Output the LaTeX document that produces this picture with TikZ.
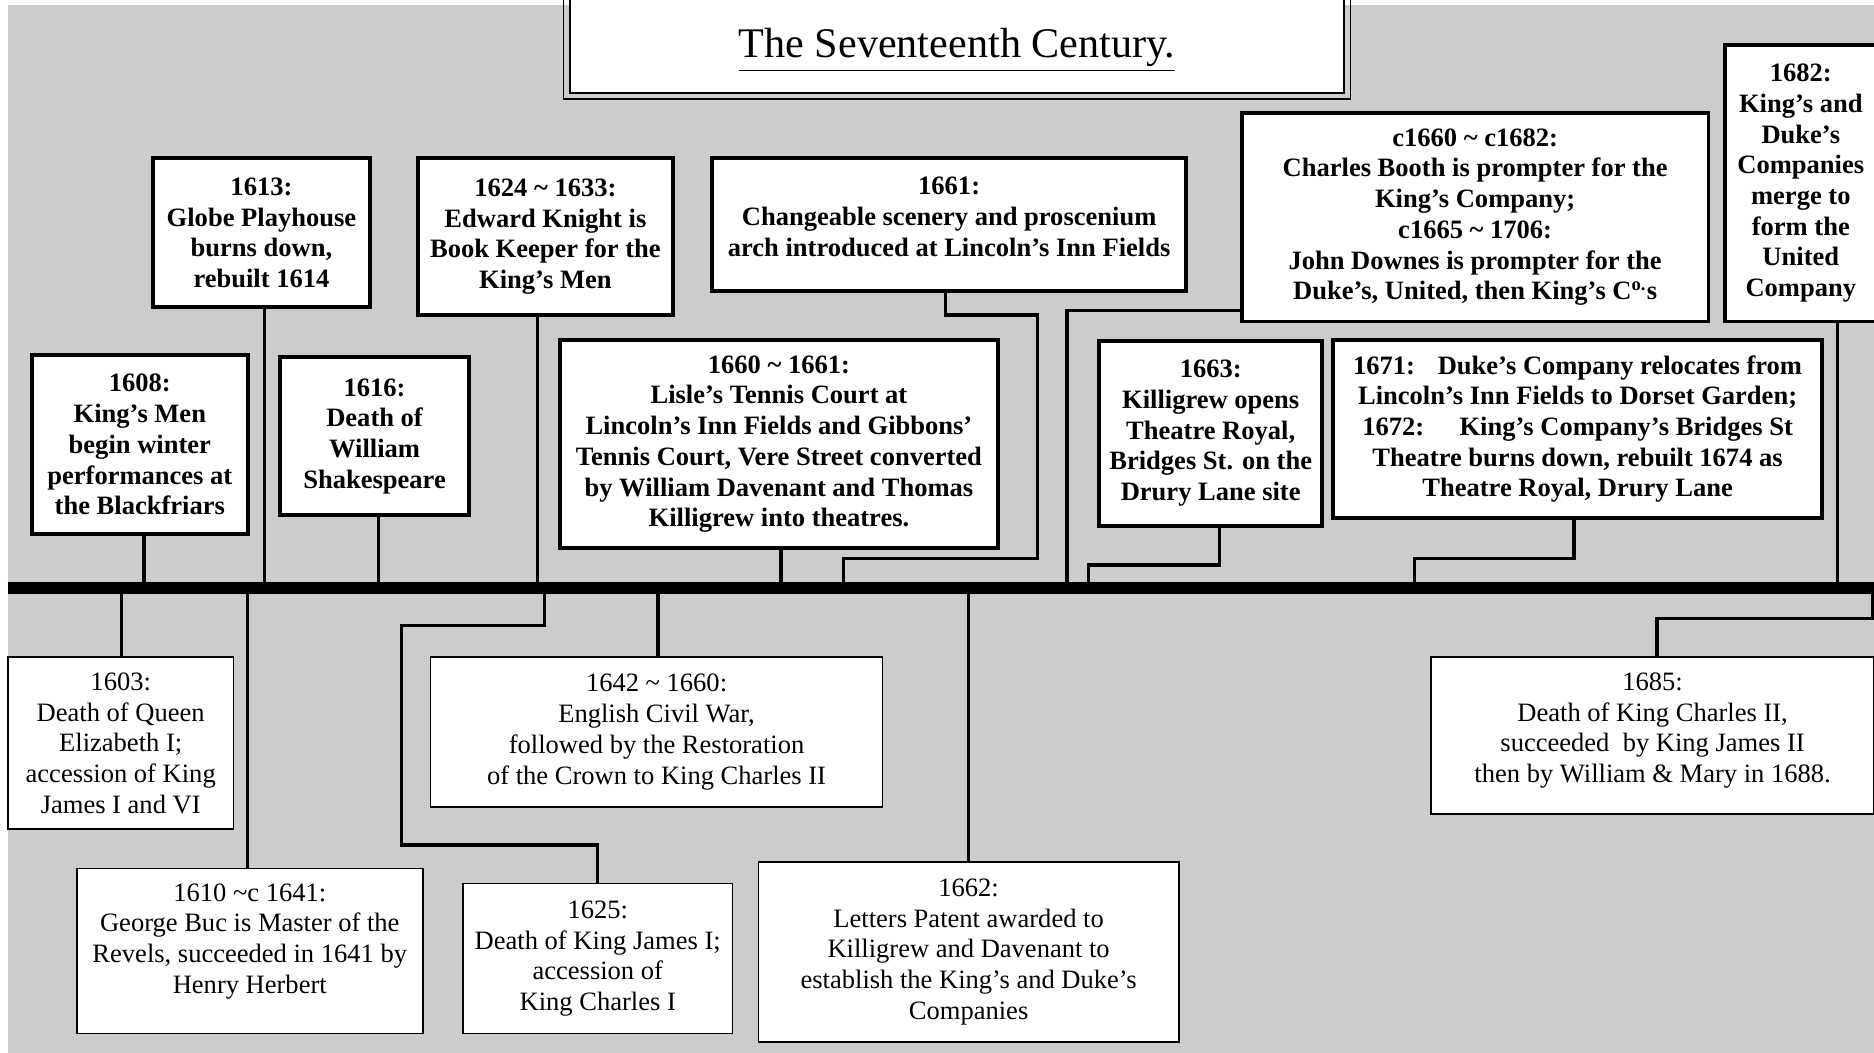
\documentclass[tikz,border=0pt]{standalone}
\usepackage{fontspec}
\setmainfont{Liberation Serif}
\usetikzlibrary{calc}
\definecolor{panelgray}{RGB}{204,204,204}
\newcommand{\tld}{\textasciitilde}

\begin{document}
\begin{tikzpicture}[x=0.5pt,y=-0.5pt,
    upbox/.style={draw,fill=white,line width=1.6pt,align=center,inner sep=0pt,
      font=\fontsize{11.1pt}{12.85pt}\selectfont\bfseries},
    lowbox/.style={draw,fill=white,line width=0.7pt,align=center,inner sep=0pt,
      font=\fontsize{11.1pt}{12.85pt}\selectfont},
    link/.style={line width=1.4pt},
    timebar/.style={line width=5.2pt}]
  \useasboundingbox (0,0) rectangle (1568,881);
  \clip (0,0) rectangle (1568,881);
  \fill[white] (0,0) rectangle (1568,881);
  \fill[panelgray] (6.5,4.2) rectangle (1575,890);

  \node[draw,fill=white,line width=1pt,minimum width=323.75pt,minimum height=44.95pt,text height=21pt,
    font=\fontsize{17.65pt}{21pt}\selectfont] (title) at (800.75,32.95) {\underline{The Seventeenth Century.}};
  \draw[line width=0.7pt] ([xshift=-2.3pt,yshift=-2.05pt]title.south west) rectangle ([xshift=2.25pt,yshift=3pt]title.north east);

  % points on the time line
  \coordinate (barL) at (6.5,492);
  \coordinate (barR) at (1575,492);
  \coordinate (t1603) at (101.8,492);
  \coordinate (t1608) at (120.6,492);
  \coordinate (t1610) at (207,492);
  \coordinate (t1613) at (221.5,492);
  \coordinate (t1616) at (316.7,492);
  \coordinate (t1624) at (450,492);
  \coordinate (t1625) at (455.6,492);
  \coordinate (t1642) at (550.6,492);
  \coordinate (t1660) at (653.6,492);
  \coordinate (t1661) at (706,492);
  \coordinate (t1662) at (810.3,492);
  \coordinate (tBooth) at (892.7,492);
  \coordinate (t1663) at (911,492);
  \coordinate (t1671) at (1183.3,492);
  \coordinate (t1682) at (1537.7,492);
  \coordinate (t1685) at (1567,492);

  % above the line
  \node[upbox,minimum width=90.75pt,minimum height=62.25pt] (b1613) at (218.75,194.75) {1613:\\Globe Playhouse\\burns down,\\rebuilt 1614};
  \node[upbox,minimum width=106.65pt,minimum height=65.5pt] (b1624) at (456.35,198) {1624 \tld{} 1633:\\Edward Knight is\\Book Keeper for the\\King’s Men};
  \node[upbox,minimum width=198.15pt,minimum height=55.5pt,text depth=6.5pt] (b1661) at (794.15,188) {1661:\\Changeable scenery and proscenium\\arch introduced at Lincoln’s Inn Fields};
  \node[upbox,minimum width=195.25pt,minimum height=87.35pt] (bBooth) at (1234.25,181.65) {c1660 \tld{} c1682:\\Charles Booth is prompter for the\\King’s Company;\\c1665 \tld{} 1706:\\John Downes is prompter for the\\Duke’s, United, then King’s C\textsuperscript{o.}s};
  \node[upbox,minimum width=63.25pt,minimum height=115.7pt] (b1682) at (1506.75,153.3) {1682:\\King’s and\\Duke’s\\Companies\\merge to\\form the\\United\\Company};
  \node[upbox,minimum width=90.5pt,minimum height=75pt] (b1608) at (117,372) {1608:\\King’s Men\\begin winter\\performances at\\the Blackfriars};
  \node[upbox,minimum width=79.1pt,minimum height=66pt] (b1616) at (313.4,365) {1616:\\Death of\\William\\Shakespeare};
  \node[upbox,minimum width=183pt,minimum height=87.15pt] (b1660) at (651.75,371.65) {1660 \tld{} 1661:\\Lisle’s Tennis Court at\\Lincoln’s Inn Fields and Gibbons’\\Tennis Court, Vere Street converted\\by William Davenant and Thomas\\Killigrew into theatres.};
  \node[upbox,minimum width=93.3pt,minimum height=77.5pt] (b1663) at (1013,362.5) {1663:\\Killigrew opens\\Theatre Royal,\\Bridges St. on the\\Drury Lane site};
  \node[upbox,minimum width=204.5pt,minimum height=74.5pt] (b1671) at (1320,359) {1671:\hspace{9.5pt}Duke’s Company relocates from\\Lincoln’s Inn Fields to Dorset Garden;\\1672:\hspace{14.8pt}King’s Company’s Bridges St\\Theatre burns down, rebuilt 1674 as\\Theatre Royal, Drury Lane};

  % below the line
  \node[lowbox,minimum width=94.5pt,minimum height=71.85pt] (b1603) at (101,621.85) {1603:\\Death of Queen\\Elizabeth I;\\accession of King\\James I and VI};
  \node[lowbox,minimum width=144.75pt,minimum height=69pt,text depth=10.6pt] (b1610) at (209,795.65) {1610 \tld{}c 1641:\\George Buc is Master of the\\Revels, succeeded in 1641 by\\Henry Herbert};
  \node[lowbox,minimum width=189.15pt,minimum height=62.5pt] (b1642) at (549.35,612.5) {1642 \tld{} 1660:\\English Civil War,\\followed by the Restoration\\of the Crown to King Charles II};
  \node[lowbox,minimum width=112.85pt,minimum height=62.75pt] (b1625) at (500.15,801.95) {1625:\\Death of King James I;\\accession of\\King Charles I};
  \node[lowbox,minimum width=175.85pt,minimum height=75.35pt] (b1662) at (810.45,796.35) {1662:\\Letters Patent awarded to\\Killigrew and Davenant to\\establish the King’s and Duke’s\\Companies};
  \node[lowbox,minimum width=185.25pt,minimum height=65.85pt,text depth=6.4pt] (b1685) at (1382.75,615.35) {1685:\\Death of King Charles II,\\succeeded\ \ by King James II\\then by William \& Mary in 1688.};

  % connectors
  \draw[link] (t1608 |- b1608.south) -- (t1608);
  \draw[link] (t1613 |- b1613.south) -- (t1613);
  \draw[link] (t1616 |- b1616.south) -- (t1616);
  \draw[link] (t1624 |- b1624.south) -- (t1624);
  \draw[link] (t1660 |- b1660.south) -- (t1660);
  \draw[link] ([xshift=-1.5pt]b1661.south) -- ++(0,18.5) -- ++(76.7,0) |- ([yshift=12.4pt]t1661) -- (t1661);
  \draw[link] ([yshift=5.5pt]bBooth.south west) -| (tBooth);
  \draw[link] ([xshift=3.75pt]b1663.south) |- ([yshift=9.6pt]t1663) -- (t1663);
  \draw[link] ([xshift=-1.5pt]b1671.south) |- ([yshift=12.4pt]t1671) -- (t1671);
  \draw[link] (t1682 |- b1682.south) -- (t1682);
  \draw[link] (t1603) -- (t1603 |- b1603.north);
  \draw[link] (t1610) -- (t1610 |- b1610.north);
  \draw[link] (t1642) -- (t1642 |- b1642.north);
  \draw[link] (t1662) -- (t1662 |- b1662.north);
  \draw[link] (t1625) -- ++(0,31.6) -- ++(-119.6,0) -- ++(0,183.4) -| (b1625.north);
  \draw[link] (t1685) -- ++(0,25.7) -| ([xshift=1.8pt]b1685.north);

  \draw[timebar] (barL) -- (barR);
\end{tikzpicture}
\end{document}
